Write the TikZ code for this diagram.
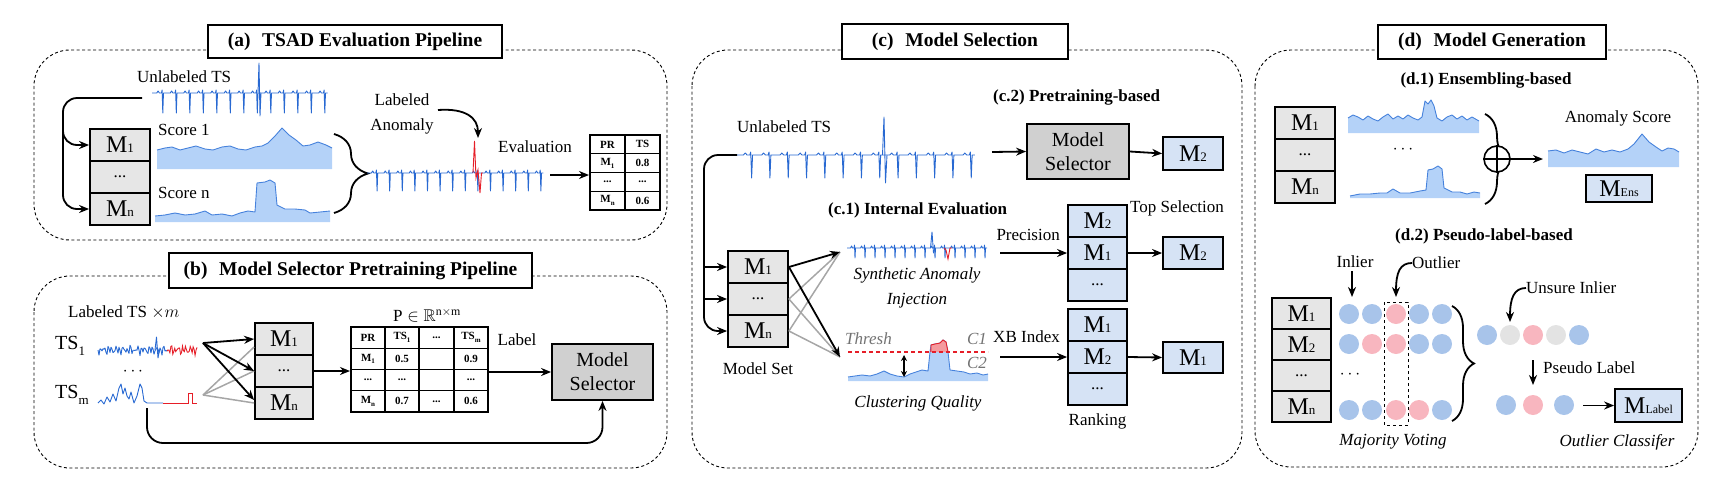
\documentclass[tikz,border=0pt]{standalone}
\usepackage{fontspec}
\usepackage{amssymb}
\setmainfont{Liberation Serif}
\usetikzlibrary{arrows.meta,decorations.pathreplacing,calc}
\definecolor{sigblue}{RGB}{40,105,210}
\definecolor{arealine}{RGB}{70,130,220}
\definecolor{areafill}{RGB}{180,210,248}
\definecolor{mgray}{RGB}{230,230,230}
\definecolor{selgray}{RGB}{208,208,208}
\definecolor{mblue}{RGB}{214,227,245}
\definecolor{cblue}{RGB}{168,196,234}
\definecolor{cpink}{RGB}{248,182,191}
\definecolor{cgray}{RGB}{227,227,227}
\definecolor{anred}{RGB}{230,30,40}
\newcommand{\Mx}[1]{{\fontsize{24}{24}\selectfont M}{\fontsize{13}{13}\selectfont #1}}
\newcommand{\lsub}[1]{\raisebox{-0.3em}{\fontsize{13}{13}\selectfont #1}}
\newcommand{\tsub}[1]{\raisebox{-0.25em}{\fontsize{7}{7}\selectfont #1}}
\newcommand{\ecgrun}[5]{%
  \draw[sig] (#1,#2) \foreach \k in {1,...,#3}{ -- ++(0.35*#4,0) -- ++(0.1*#4,-2) -- ++(0.1*#4,2) -- ++(0.15*#4,0) -- ++(0.05*#4,-3) -- ++(0.05*#4,#5+3) -- ++(0.05*#4,-#5) -- ++(0.15*#4,0)};}
\newcommand{\Area}[4]{%
  \fill[areafill] (#1,#3) -- plot coordinates {#4} -- (#2,#3) -- cycle;
  \draw[arealine, line width=0.9pt, line join=round] plot coordinates {#4};}
\tikzset{
 panel/.style={draw, dash pattern=on 3pt off 2.5pt, line width=0.9pt, rounded corners=36pt},
 titlebox/.style={draw, line width=1.2pt, fill=white, inner sep=0pt, font=\fontsize{19.5}{22}\selectfont\bfseries},
 lbl/.style={inner sep=0pt, font=\fontsize{17}{20}\selectfont},
 ilbl/.style={inner sep=0pt, font=\fontsize{17}{20}\selectfont\itshape},
 blbl/.style={inner sep=0pt, font=\fontsize{17}{20}\selectfont\bfseries},
 mcell/.style={draw, line width=1.8pt, fill=mgray, minimum width=60pt, minimum height=32pt, inner sep=0pt, font=\fontsize{17}{20}\selectfont},
 bcell/.style={mcell, fill=mblue},
 selbox/.style={draw, line width=1.8pt, fill=selgray, inner sep=0pt, align=center, font=\fontsize{20}{24}\selectfont},
 arr/.style={-{Stealth[length=10pt,width=8pt]}, line width=1.8pt},
 gln/.style={line width=1.5pt, draw=black!35},
 sig/.style={draw=sigblue, line width=0.9pt, line join=round},
 tcell/.style={draw, line width=1.2pt, inner sep=0pt, font=\fontsize{11}{12}\selectfont\bfseries},
 dot/.style={circle, inner sep=0pt, minimum size=20pt},
 brc/.style={decorate, line width=1.8pt},
}
\begin{document}
\begin{tikzpicture}[x=1pt,y=-1pt]
\useasboundingbox (0,0) rectangle (1732,496);
%% ================= (a) =================
\draw[panel] (34,50) rectangle (667,240);
\node[titlebox, minimum width=294pt, minimum height=33pt] (ta) at (355,41.5) {(a)\hspace{0.6em}TSAD Evaluation Pipeline};
\node[lbl, anchor=west] (ulA) at (137,77) {Unlabeled TS};
\ecgrun{152}{93}{13}{13.5}{20}
\draw[sig] (258,93) -- (259,63) -- (260,116) -- (261,93);
\coordinate (ulAs) at (142,98);
\node[mcell] (am1) at (120,145) {\Mx{1}};
\node[mcell] (am2) at (120,177) {...};
\node[mcell] (am3) at (120,209) {\Mx{n}};
\coordinate (abr) at (63,130);
\draw[arr, rounded corners=14pt] (ulAs) -- (63,98) -- (63,145) -- (am1.west);
\draw[arr, rounded corners=14pt] (abr) -- (63,209) -- (am3.west);
\node[lbl, anchor=west] (s1) at (158,130) {Score 1};
\node[lbl, anchor=west] (sn) at (158,193) {Score n};
\Area{157}{332}{169}{(157,150)(165,148)(172,147)(180,150)(188,148)(196,146)(205,149)(213,150)(222,147)(230,146)(238,149)(246,150)(255,147)(262,146)(268,143)(275,136)(282,128)(289,135)(296,140)(303,146)(310,145)(318,142)(326,145)(332,148)}
\Area{155}{330}{222}{(155,216)(165,215)(175,213)(185,215)(195,214)(205,211)(212,215)(222,214)(232,216)(240,213)(248,211)(255,212)(257,183)(265,182)(270,180)(275,183)(277,205)(285,209)(295,209)(305,210)(310,213)(320,212)(330,211)}
\draw[brc, decoration={brace, amplitude=34pt}] (334,134) -- (334,213);
\ecgrun{367}{173}{14}{12.6}{18}
\draw[anred, line width=0.9pt] (473,173) -- (474.5,141) -- (476,178) -- (478,170) -- (480,193) -- (481.5,173) -- (483,173);
\node[lbl, align=center, font=\fontsize{17}{25}\selectfont] (laA) at (402,114) {Labeled\\Anomaly};
\coordinate (laS) at (438,110);
\coordinate (laE) at (478,138);
\draw[arr] (laS) .. controls (466,108) and (478,118) .. (laE);
\node[lbl] (evA) at (535,147) {Evaluation};
\coordinate (evS) at (550,175);
\coordinate (tabA) at (589,175);
\draw[arr] (evS) -- (tabA);
\node[tcell, minimum width=35pt, minimum height=18.75pt] (ta11) at (607.5,144.4) {PR};
\node[tcell, minimum width=35pt, minimum height=18.75pt] (ta12) at (642.5,144.4) {TS};
\node[tcell, minimum width=35pt, minimum height=18.75pt] (ta21) at (607.5,163.1) {M\tsub{1}};
\node[tcell, minimum width=35pt, minimum height=18.75pt] (ta22) at (642.5,163.1) {0.8};
\node[tcell, minimum width=35pt, minimum height=18.75pt] (ta31) at (607.5,181.9) {...};
\node[tcell, minimum width=35pt, minimum height=18.75pt] (ta32) at (642.5,181.9) {...};
\node[tcell, minimum width=35pt, minimum height=18.75pt] (ta41) at (607.5,200.6) {M\tsub{n}};
\node[tcell, minimum width=35pt, minimum height=18.75pt] (ta42) at (642.5,200.6) {0.6};
%% ================= (b) =================
\draw[panel] (34,276) rectangle (667,468);
\node[titlebox, minimum width=363pt, minimum height=35pt] (tb) at (350.5,270.5) {(b)\hspace{0.6em}Model Selector Pretraining Pipeline};
\node[lbl, anchor=west] (ltsB) at (68,312) {Labeled TS $\times m$};
\node[lbl, anchor=west, font=\fontsize{20}{22}\selectfont] (ts1) at (55,346) {TS\lsub{1}};
\node[lbl, anchor=west, font=\fontsize{20}{22}\selectfont] (tsm) at (55,395) {TS\lsub{m}};
\node[lbl] (dotsB) at (133,372) {$\cdots$};
\draw[sig] plot[domain=98:167, samples=70] (\x, {350+2.5*sin((\x-98)*97)+2*sin((\x-98)*131)+1.5*sin((\x-98)*53)});
\draw[anred, line width=0.9pt] plot[domain=167:197, samples=32] (\x, {350+2.5*sin((\x-98)*97)+2*sin((\x-98)*131)+1.5*sin((\x-98)*53)});
\draw[sig] (155,350) -- (156.5,337) -- (158,358) -- (159.5,350);
\draw[sig] plot coordinates {(98,403)(101,400)(104,404)(107,397)(110,402)(113,394)(116,401)(119,388)(121,384)(123,394)(125,388)(127,396)(129,399)(131,392)(134,403)(137,396)(140,384)(142,388)(144,401)(147,403)(163,403)};
\draw[anred, line width=0.9pt] plot coordinates {(163,403)(188,403)(188,393)(192,393)(192,403)(197,403)};
\coordinate (ts1e) at (203,343);
\coordinate (tsme) at (203,395);
\node[mcell, minimum width=58pt] (bm1) at (284,339) {\Mx{1}};
\node[mcell, minimum width=58pt] (bm2) at (284,371) {...};
\node[mcell, minimum width=58pt] (bm3) at (284,403) {\Mx{n}};
\draw[gln] (tsme) -- ([yshift=-8pt]bm1.west);
\draw[gln] (tsme) -- (bm2.west);
\draw[gln] (tsme) -- (bm3.west);
\draw[arr] (ts1e) -- (bm1.west);
\draw[arr] (ts1e) -- (bm2.west);
\draw[arr] (ts1e) -- ([yshift=3pt]bm3.west);
\coordinate (tabB) at (350,371);
\draw[arr] (bm2.east) -- (tabB);
\node[lbl] (pB) at (427,315) {$\mathrm{P}\in\mathbb{R}^{\mathrm{n}\times\mathrm{m}}$};
\foreach \cx/\w [count=\j] in {368/34,402/34,436.5/35,471/34}{
  \foreach \ry [count=\i] in {337.6,358.9,380.1,401.4}{
    \node[tcell, minimum width=\w pt, minimum height=21.25pt] (tb\i\j) at (\cx,\ry) {};
  }
}
\node[tcell, draw=none] at (tb11) {PR};
\node[tcell, draw=none] at (tb12) {TS\tsub{1}};
\node[tcell, draw=none] at (tb13) {...};
\node[tcell, draw=none] at (tb14) {TS\tsub{m}};
\node[tcell, draw=none] at (tb21) {M\tsub{1}};
\node[tcell, draw=none] at (tb22) {0.5};
\node[tcell, draw=none] at (tb24) {0.9};
\node[tcell, draw=none] at (tb31) {...};
\node[tcell, draw=none] at (tb32) {...};
\node[tcell, draw=none] at (tb34) {...};
\node[tcell, draw=none] at (tb41) {M\tsub{n}};
\node[tcell, draw=none] at (tb42) {0.7};
\node[tcell, draw=none] at (tb43) {...};
\node[tcell, draw=none] at (tb44) {0.6};
\node[lbl] (labB) at (517,340) {Label};
\node[selbox, minimum width=101pt, minimum height=56pt] (selB) at (602.5,372) {Model\\Selector};
\draw[arr] (tb34.east |- selB.west) -- (selB.west);
\coordinate (tsmB) at (147,408);
\draw[arr, rounded corners=16pt] (tsmB) -- (147,443) -| (selB.south);
%% ================= (c) =================
\draw[panel] (692,50) rectangle (1242,468);
\node[titlebox, minimum width=226pt, minimum height=35pt] (tc) at (955,41.5) {(c)\hspace{0.6em}Model Selection};
\node[lbl, anchor=west] (ulC) at (737,127) {Unlabeled TS};
\ecgrun{737}{155}{13}{18.3}{23}
\draw[sig] (882.5,155) -- (884,117) -- (885.5,183) -- (887,155);
\node[blbl, anchor=west] (c2) at (993,97) {(c.2) Pretraining-based};
\coordinate (ulCe) at (992,152);
\node[selbox, minimum width=102pt, minimum height=55pt] (selC) at (1078,151.5) {Model\\Selector};
\node[bcell, minimum height=33pt] (cM2) at (1193,153.5) {\Mx{2}};
\draw[arr] (ulCe) -- (selC.west);
\draw[arr] (selC.east) -- (cM2.west);
\coordinate (ulCs) at (737,155);
\node[mcell] (cm1) at (758,267) {\Mx{1}};
\node[mcell] (cm2) at (758,299) {...};
\node[mcell] (cm3) at (758,331) {\Mx{n}};
\coordinate (cb1) at (704,267);
\coordinate (cb2) at (704,299);
\draw[arr, rounded corners=14pt] (ulCs) -- (704,155) -- (704,331) -- (cm3.west);
\draw[arr] (cb1) -- (cm1.west);
\draw[arr] (cb2) -- (cm2.west);
\node[lbl] (msC) at (758,369) {Model Set};
\node[blbl, anchor=west] (c1) at (828,210) {(c.1) Internal Evaluation};
\ecgrun{847}{248}{14}{10}{10}
\draw[sig] (930.5,248) -- (932,232) -- (933.5,253) -- (935,248);
\draw[anred, line width=0.9pt] (944,248) -- (946,250) -- (948,259) -- (950,248) -- (952,248);
\coordinate (synT) at (840,252);
\node[ilbl, align=center, font=\fontsize{17}{25}\selectfont\itshape] (synL) at (917,287.5) {Synthetic Anomaly\\Injection};
\Area{848}{988}{381}{(848,377)(855,376)(862,375)(870,376)(877,374)(884,371)(890,374)(897,376)(904,377)(910,374)(916,372)(922,370)(928,371)(930,352)(931,345)(935,344)(940,343)(943,340)(946,342)(948,352)(950,370)(957,371)(964,372)(970,374)(977,373)(983,375)(988,374)}
\fill[anred!45] (930.9,352) -- (931,345) -- (935,344) -- (940,343) -- (943,340) -- (946,342) -- (948,352) -- cycle;
\draw[anred, line width=0.9pt] (930.9,352) -- (931,345) -- (935,344) -- (940,343) -- (943,340) -- (946,342) -- (948,352);
\draw[anred, line width=1.2pt, dash pattern=on 4pt off 3pt] (848,352) -- (988,352);
\node[ilbl, text=black!55, anchor=west] (thr) at (845,339) {Thresh};
\node[ilbl, text=black!55] (c1l) at (977,339) {C1};
\node[ilbl, text=black!55] (c2l) at (977,363) {C2};
\draw[{Stealth[length=6pt,width=6pt]}-{Stealth[length=6pt,width=6pt]}, line width=1.5pt] (904,355) -- (904,377);
\coordinate (cluT) at (840,357);
\node[ilbl] (cq) at (918,403) {Clustering Quality};
\draw[gln] (cm2.east) -- (synT);
\draw[gln] (cm2.east) -- (cluT);
\draw[gln] (cm3.east) -- (synT);
\draw[gln] (cm3.east) -- (cluT);
\draw[arr] (cm1.east) -- (synT);
\draw[arr] (cm1.east) -- (cluT);
\node[lbl, anchor=east] (prec) at (1060,235) {Precision};
\coordinate (precS) at (1000,253);
\node[bcell, minimum width=59pt] (ts1c) at (1097.5,221) {\Mx{2}};
\node[bcell, minimum width=59pt] (ts2c) at (1097.5,253) {\Mx{1}};
\node[bcell, minimum width=59pt] (ts3c) at (1097.5,285) {...};
\draw[arr] (precS) -- (ts2c.west);
\node[bcell] (tsM) at (1193,253) {\Mx{2}};
\draw[arr] (ts2c.east) -- (tsM.west);
\node[lbl, anchor=west] (topsel) at (1130,208) {Top Selection};
\node[lbl, anchor=east] (xb) at (1060,337) {XB Index};
\coordinate (xbS) at (1000,357);
\node[bcell, minimum width=59pt] (rk1) at (1097.5,325) {\Mx{1}};
\node[bcell, minimum width=59pt] (rk2) at (1097.5,357) {\Mx{2}};
\node[bcell, minimum width=59pt] (rk3) at (1097.5,389) {...};
\draw[arr] (xbS) -- (rk2.west);
\node[bcell, minimum height=31pt] (rkM) at (1193,357.5) {\Mx{1}};
\draw[arr] (rk2.east) -- (rkM.west);
\node[lbl] (rank) at (1097.5,421) {Ranking};
%% ================= (d) =================
\draw[panel] (1255,50) rectangle (1698,467);
\node[titlebox, minimum width=228pt, minimum height=34pt] (td) at (1492,42) {(d)\hspace{0.6em}Model Generation};
\node[blbl] (d1) at (1486,80) {(d.1) Ensembling-based};
\node[mcell] (dm1) at (1305,123) {\Mx{1}};
\node[mcell] (dm2) at (1305,155) {...};
\node[mcell] (dm3) at (1305,187) {\Mx{n}};
\Area{1348}{1479}{133}{(1348,118)(1353,115)(1358,117)(1363,120)(1368,116)(1373,119)(1378,121)(1383,117)(1388,114)(1393,119)(1398,116)(1403,119)(1408,115)(1413,118)(1418,120)(1422,117)(1425,101)(1428,104)(1431,100)(1434,106)(1437,118)(1442,121)(1447,117)(1452,115)(1457,119)(1462,116)(1467,120)(1472,117)(1479,121)}
\Area{1350}{1480}{198}{(1350,196)(1360,194)(1370,194)(1380,193)(1387,193)(1393,189)(1400,193)(1410,193)(1420,191)(1426,190)(1428,170)(1433,169)(1438,166)(1442,169)(1444,188)(1452,192)(1460,192)(1467,194)(1474,192)(1480,193)}
\node[lbl] (dotsD) at (1403,150) {$\cdots$};
\draw[brc, decoration={brace, amplitude=24pt}] (1485,114) -- (1485,204);
\node[circle, draw, fill=white, line width=1.6pt, minimum size=26pt, inner sep=0pt] (oplus) at (1497,159) {};
\draw[line width=1.4pt] (oplus.north) -- (oplus.south);
\draw[line width=1.4pt] (oplus.west) -- (oplus.east);
\coordinate (ensT) at (1543,159);
\draw[arr] (oplus.east) -- (ensT);
\node[lbl] (asL) at (1618,118) {Anomaly Score};
\Area{1548}{1679}{167}{(1548,151)(1556,150)(1564,153)(1572,150)(1580,152)(1588,154)(1596,149)(1604,152)(1612,150)(1620,152)(1628,149)(1634,144)(1642,134)(1649,142)(1656,147)(1662,151)(1668,148)(1674,149)(1679,152)}
\node[bcell, minimum width=66pt, minimum height=27pt] (mens) at (1619,188.5) {{\fontsize{24}{24}\selectfont M}{\fontsize{12}{12}\selectfont Ens}};
\node[blbl] (d2) at (1484,236) {(d.2) Pseudo-label-based};
\node[mcell, minimum width=59pt, minimum height=31pt] (em1) at (1301.5,313.5) {\Mx{1}};
\node[mcell, minimum width=59pt, minimum height=31pt] (em2) at (1301.5,344.5) {\Mx{2}};
\node[mcell, minimum width=59pt, minimum height=31pt] (em3) at (1301.5,375.5) {...};
\node[mcell, minimum width=59pt, minimum height=31pt] (em4) at (1301.5,406.5) {\Mx{n}};
\foreach \x/\c [count=\i] in {1349/cblue,1372/cblue,1396/cpink,1419/cblue,1442/cblue}
  \node[dot, fill=\c] (va\i) at (\x,314) {};
\foreach \x/\c [count=\i] in {1349/cblue,1372/cpink,1396/cpink,1419/cblue,1442/cblue}
  \node[dot, fill=\c] (vb\i) at (\x,344) {};
\foreach \x/\c [count=\i] in {1349/cblue,1372/cblue,1396/cpink,1419/cpink,1442/cblue}
  \node[dot, fill=\c] (vn\i) at (\x,410) {};
\draw[dashed, line width=1pt] (1384,302) rectangle (1408,425);
\node[lbl] (dotsE) at (1350,375) {$\cdots$};
\node[lbl] (inl) at (1355,262) {Inlier};
\coordinate (inlS) at (1352,271);
\coordinate (inlT) at (1352,297);
\draw[arr] (inlS) -- (inlT);
\node[lbl, anchor=west] (outl) at (1412,263) {Outlier};
\coordinate (outT) at (1396,297);
\draw[arr] (outl.west) .. controls (1400,263) and (1396,272) .. (outT);
\node[ilbl] (mv) at (1393,442) {Majority Voting};
\draw[brc, decoration={brace, amplitude=22pt}] (1452,306) -- (1452,421);
\foreach \x/\c [count=\i] in {1487/cblue,1510/cgray,1533/cpink,1556/cgray,1579/cblue}
  \node[dot, fill=\c] (vu\i) at (\x,335) {};
\node[lbl, anchor=west] (uns) at (1526,288) {Unsure Inlier};
\coordinate (unsT) at (1510,322);
\draw[arr] (uns.west) .. controls (1514,288) and (1510,298) .. (unsT);
\coordinate (psS) at (1533,360);
\coordinate (psT) at (1533,385);
\draw[arr] (psS) -- (psT);
\node[lbl, anchor=west] (psl) at (1543,368) {Pseudo Label};
\foreach \x/\c [count=\i] in {1506/cblue,1533/cpink,1564/cblue}
  \node[dot, fill=\c] (vp\i) at (\x,405) {};
\node[bcell, minimum width=67pt, minimum height=33pt] (mlab) at (1648.5,405.5) {{\fontsize{24}{24}\selectfont M}{\fontsize{12}{12}\selectfont Label}};
\coordinate (mlS) at (1583,405.5);
\draw[arr] (mlS) -- (mlab.west);
\node[ilbl] (oc) at (1617,442) {Outlier Classifer};
\end{tikzpicture}
\end{document}
